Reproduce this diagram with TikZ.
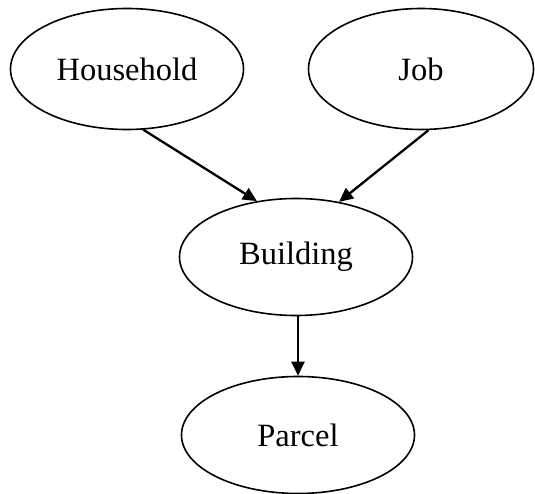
\documentclass[tikz,border=0pt]{standalone}
\usepackage{fontspec}
\setmainfont{Liberation Serif}
\usetikzlibrary{arrows.meta, shapes.geometric}
\tikzset{
  entity/.style={ellipse, draw, line width=1.6pt, minimum width=233pt, minimum height=121pt, inner sep=0pt},
  link/.style={line width=2.3pt, -{Triangle[length=14pt,width=13pt]}}
}

\begin{document}
\begin{tikzpicture}[x=1pt, y=-1pt, font=\fontsize{32.5}{39}\selectfont]
  \useasboundingbox (0,0) rectangle (535,494);
  % Entities
  \node[entity] (hh) at (127,69) {Household};
  \node[entity, minimum width=225pt] (job) at (421,69) {Job};
  \node[entity, minimum height=117pt] (bld) at (296,257) {Building};
  \node[entity, minimum height=117pt] (prc) at (298,435) {Parcel};
  % Links
  \draw[link] (hh.-75) -- (bld.125);
  \draw[link] (job.-83) -- (bld.52);
  \draw[link] (prc.north |- bld.south) -- (prc.north);
\end{tikzpicture}
\end{document}
